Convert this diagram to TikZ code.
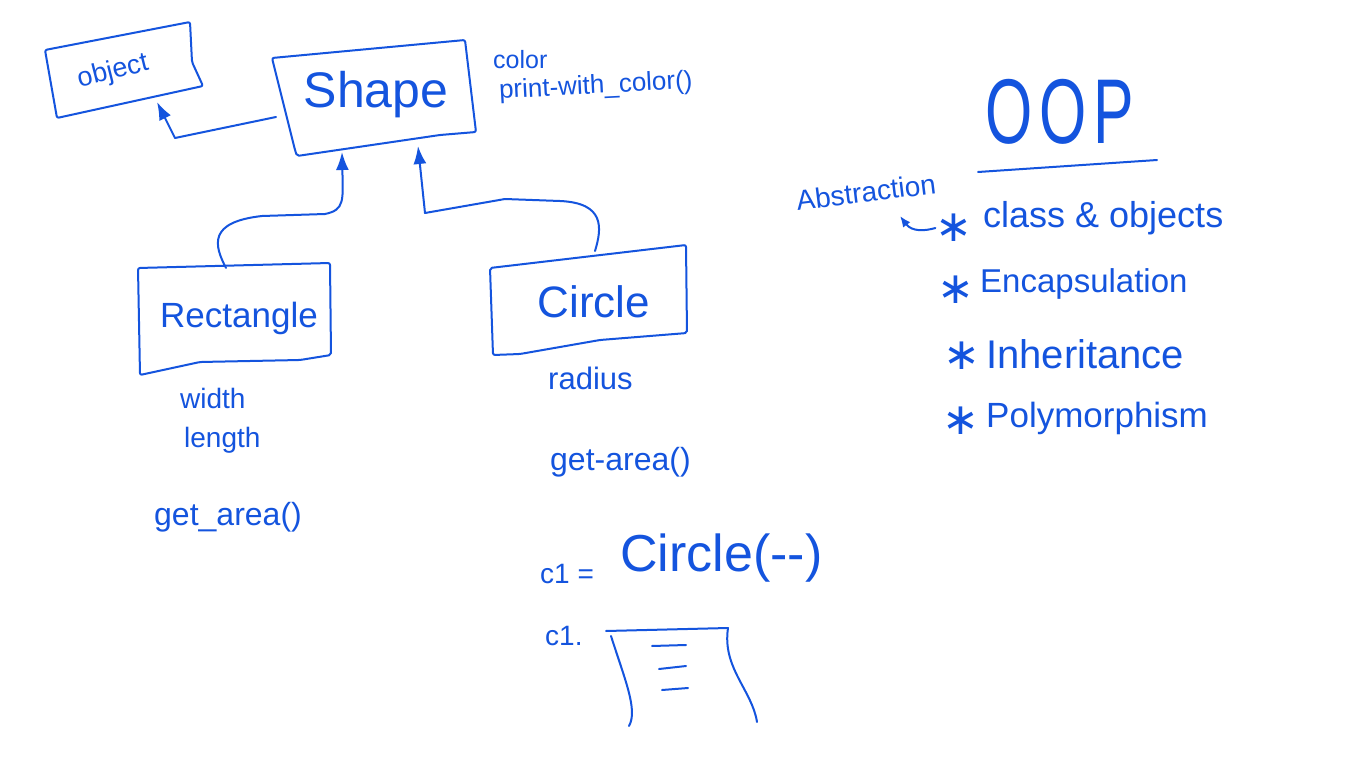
\documentclass[tikz,border=0pt]{standalone}
\usepackage{fontspec}
\setmainfont{Liberation Sans}
\newfontfamily\djv{DejaVu Sans}
\usetikzlibrary{arrows.meta}
\definecolor{ink}{RGB}{20,84,222}
\newcommand{\fs}[1]{\fontsize{#1}{#1}\selectfont}
\begin{document}
\begin{tikzpicture}[x=1pt,y=-1pt,
  pen/.style={draw=ink, line width=2pt, line cap=round, line join=round},
  box/.style={pen, rounded corners=2pt},
  lbl/.style={text=ink, inner sep=0pt},
  star/.style={lbl, font=\djv\fs{44}},
  inh/.style={pen, -{Latex[length=18pt,width=13pt]}},
  tip/.style={pen, -{Latex[length=11pt,width=9pt]}}]
\useasboundingbox (0,0) rectangle (1366,768);
\fill[white] (0,0) rectangle (1366,768);

% ---- object box
\draw[box] (45,50) -- (190,22) -- (192,62) -- (203,86) -- (57,118) -- cycle;
\node[lbl, rotate=14, font=\fs{27}] (objt) at (113,72) {object};
\coordinate (objB) at (157,102);

% ---- Shape box
\draw[box] (272,58) -- (465,40) -- (476,132) -- (440,135) -- (297,156) -- (295,150) -- cycle;
\node[lbl, font=\fs{50}] (shape) at (376,95) {Shape};
\node[lbl, font=\fs{25}, anchor=west] (color) at (493,60) {color};
\node[lbl, font=\fs{26}, anchor=west, rotate=3] (pwc) at (499,92) {print-with\_color()};
\coordinate (shapeL) at (276,117);
\coordinate (shapeB1) at (342,152);
\coordinate (shapeB2) at (418,146);

% ---- Rectangle box
\draw[box] (138,268) -- (330,263) -- (331,355) -- (300,360) -- (200,362) -- (140,375) -- cycle;
\node[lbl, font=\fs{35}] (rect) at (239,318) {Rectangle};
\node[lbl, font=\fs{28}, anchor=west] (w) at (180,398) {width};
\node[lbl, font=\fs{28}, anchor=west] (len) at (184,440) {length};
\node[lbl, font=\fs{32}, anchor=west] (ga1) at (154,517) {get\_area()};
\coordinate (rectT) at (226,268);

% ---- Circle box
\draw[box] (490,268) -- (686,245) -- (687,333) -- (600,340) -- (520,354) -- (493,355) -- cycle;
\node[lbl, font=\fs{44}] (circ) at (594,302) {Circle};
\node[lbl, font=\fs{31}, anchor=west] (rad) at (548,378) {radius};
\node[lbl, font=\fs{32}, anchor=west] (ga2) at (550,462) {get-area()};
\coordinate (circT) at (595,251);

% ---- inheritance connectors
\draw[inh] (rectT) .. controls (214,245) and (208,222) .. (262,216)
   -- (325,214) .. controls (345,210) and (343,200) .. (shapeB1);
\draw[inh] (circT) .. controls (602,228) and (605,203) .. (560,201)
   -- (505,199) -- (425,213) -- (shapeB2);
\draw[inh] (shapeL) -- (175,138) -- (objB);

% ---- instance
\node[lbl, font=\fs{28}, anchor=west] (c1a) at (540,574) {c1 =};
\node[lbl, font=\fs{52}, anchor=west] (c1b) at (620,558) {Circle(-{}-)};
\node[lbl, font=\fs{28}, anchor=west] (c1c) at (545,636) {c1.};
\coordinate (mTL) at (606,631);
\coordinate (mTR) at (728,628);
\draw[pen] (mTL) -- (mTR);
\draw[pen] (611,636) .. controls (625,680) and (638,710) .. (629,726);
\draw[pen] (mTR) .. controls (722,668) and (752,690) .. (757,722);
\draw[pen] (652,646) -- (686,645);
\draw[pen] (659,669) -- (686,666);
\draw[pen] (662,690) -- (688,688);

% ---- OOP list
\node[lbl, font=\fs{92}, xscale=0.66] (oop) at (1060,112) {O\hspace{10pt}O\hspace{10pt}P};
\coordinate (ulL) at (978,172);
\coordinate (ulR) at (1157,160);
\draw[pen] (ulL) -- (ulR);
\node[lbl, font=\fs{28}, rotate=7] (abs) at (866,192) {Abstraction};

\node[star] (s1) at (954,228) {∗};
\node[lbl, font=\fs{36}, anchor=west] (i1) at (983,218) {class \& objects};
\node[star] (s2) at (956,290) {∗};
\node[lbl, font=\fs{33}, anchor=west] (i2) at (980,284) {Encapsulation};
\node[star] (s3) at (962,356) {∗};
\node[lbl, font=\fs{40}, anchor=west] (i3) at (986,354) {Inheritance};
\node[star] (s4) at (961,421) {∗};
\node[lbl, font=\fs{35}, anchor=west] (i4) at (986,418) {Polymorphism};

\coordinate (absT) at (900,216);
\draw[tip] (s1.west) .. controls (925,231) and (912,232) .. (absT);
\end{tikzpicture}
\end{document}
